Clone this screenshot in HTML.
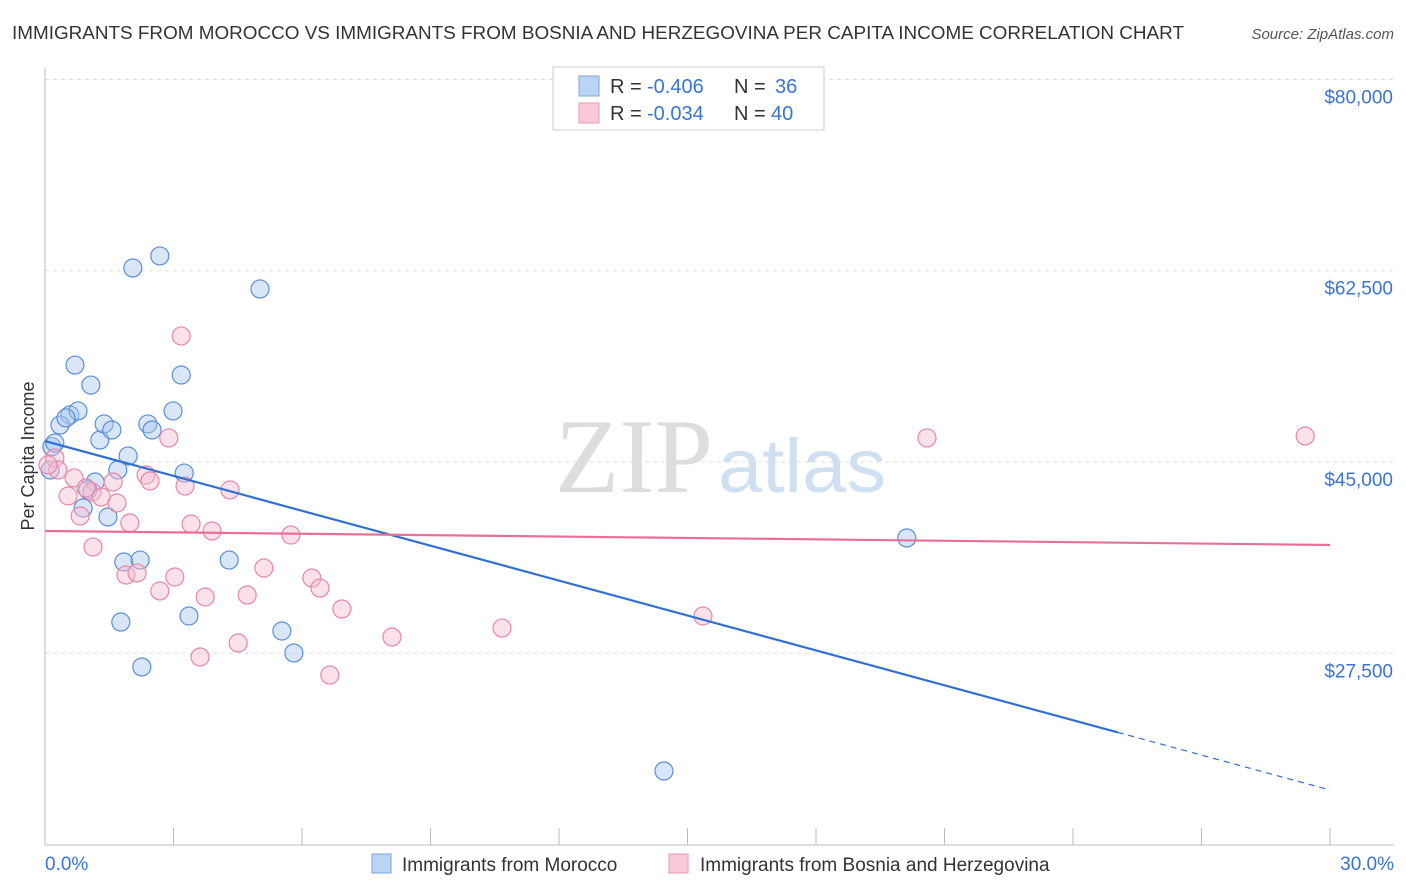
<!DOCTYPE html>
<html><head><meta charset="utf-8"><style>
body{margin:0;background:#fff;font-family:"Liberation Sans",sans-serif}
svg{display:block}
</style></head><body>
<svg id="chart" width="1406" height="892">
<text x="12" y="39" font-size="18" fill="#333" textLength="1172" lengthAdjust="spacingAndGlyphs">IMMIGRANTS FROM MOROCCO VS IMMIGRANTS FROM BOSNIA AND HERZEGOVINA PER CAPITA INCOME CORRELATION CHART</text>
<text x="1394" y="39" font-size="15" font-style="italic" fill="#555" text-anchor="end">Source: ZipAtlas.com</text>
<text x="555" y="492" font-size="106" font-family="Liberation Serif" fill="#ddd" textLength="158" lengthAdjust="spacingAndGlyphs">ZIP</text>
<text x="718" y="492" font-size="76" fill="#cfe0f3" textLength="168" lengthAdjust="spacingAndGlyphs">atlas</text>
<g id="grid"></g><g id="axes"></g><g id="pts"></g><g id="trend"></g>
<text transform="translate(34,456) rotate(-90)" font-size="18" fill="#333" text-anchor="middle">Per Capita Income</text>
<g>
<rect x="553" y="67" width="271" height="63" fill="#fff" stroke="#ccc"/>
<rect x="579" y="76" width="20" height="20" fill="#bcd4f3" stroke="#7aa6e0"/>
<rect x="579" y="103" width="20" height="20" fill="#f9c9d8" stroke="#ec96b2"/>
<text x="610" y="93" font-size="20" fill="#333">R =</text>
<text x="647" y="93" font-size="20" fill="#3a74d6">-0.406</text>
<text x="734" y="93" font-size="20" fill="#333">N =</text>
<text x="775" y="93" font-size="20" fill="#3a74d6">36</text>
<text x="610" y="120" font-size="20" fill="#333">R =</text>
<text x="647" y="120" font-size="20" fill="#3a74d6">-0.034</text>
<text x="734" y="120" font-size="20" fill="#333">N =</text>
<text x="771" y="120" font-size="20" fill="#3a74d6">40</text>
</g>
<g>
<rect x="372" y="854" width="19" height="19" fill="#bcd4f3" stroke="#7aa6e0"/>
<text x="402" y="871" font-size="19" fill="#333">Immigrants from Morocco</text>
<rect x="669" y="854" width="19" height="19" fill="#f9c9d8" stroke="#ec96b2"/>
<text x="700" y="871" font-size="19" fill="#333">Immigrants from Bosnia and Herzegovina</text>
</g>
</svg>
<script>
const yTicks=[27500,45000,62500,80000];
const yTickLabels=["$27,500","$45,000","$62,500","$80,000"];
const xTickLabels=["0.0%","30.0%"];
const moroccoX=[0.16,0.23,0.58,0.70,1.07,0.77,0.35,1.28,1.38,1.56,1.94,1.70,1.17,1.00,0.89,1.47,1.84,2.22,1.77,2.26,2.05,2.68,3.18,2.99,2.40,2.50,3.25,4.30,3.36,5.02,5.53,5.81,20.12,14.45,0.12,0.49];
const moroccoY=[46400,46740,49300,53870,52040,49670,48380,47010,48480,47930,45550,44270,43170,42440,40790,39970,35850,36030,30360,26250,62750,63850,52960,49670,48480,47930,43990,36030,30910,60830,29540,27530,38050,16730,44270,49030];
const bosniaX=[0.23,0.30,0.54,0.68,1.10,0.82,1.12,1.31,1.68,1.59,1.98,1.89,2.15,2.36,2.45,2.89,3.18,3.27,3.41,3.03,2.68,3.74,3.62,3.90,4.32,4.51,4.72,5.11,5.74,6.23,6.42,6.93,6.65,8.10,10.67,15.36,20.59,29.42,0.07,0.96];
const bosniaY=[45370,44270,41890,43540,42260,40060,37220,41800,41250,43170,39420,34660,34850,43810,43260,47200,56530,42800,39330,34480,33200,32650,27160,38690,42440,28440,32830,35300,38320,34390,33470,31550,25510,28990,29810,30910,47200,47380,44730,42620];
const moroccoTrend=[46920,14995];
const bosniaTrend=[38690,37410];
const solidEnd=25.04;
const NS="http://www.w3.org/2000/svg";
const X=v=>45+v/30*1285;
const Y=v=>462-(v-45000)*191.3/17500;
function mk(p,t,a){const e=document.createElementNS(NS,t);for(const k in a)e.setAttribute(k,a[k]);document.getElementById(p).appendChild(e);return e;}
yTicks.forEach((t,i)=>{
 const l=mk('grid','line',{x1:45,x2:1394,y1:Y(t),y2:Y(t),stroke:'#ddd','stroke-dasharray':'4,4'});
 
 
 const tx=mk('axes','text',{x:1393,y:Y(t)+24,'font-size':19,fill:'#3a74d6','text-anchor':'end'});tx.textContent=yTickLabels[i];
 
 
});
mk('axes','line',{x1:45,x2:45,y1:68,y2:845,stroke:'#bbb'});
mk('axes','line',{x1:45,x2:1394,y1:845,y2:845,stroke:'#bbb'});
for(let i=0;i<=10;i++){const t=mk('axes','line',{x1:X(i*3),x2:X(i*3),y1:828,y2:845,stroke:'#bbb'});
 
 }
[[0,'start',45],[1,'end',1394]].forEach(([i,a,x])=>{const t=mk('axes','text',{x:x,y:870,'font-size':19,fill:'#3a74d6','text-anchor':a});t.textContent=xTickLabels[i];
 
 });
function pts(xs,ys,f,s,n){xs.forEach((x,i)=>{const c=mk('pts','circle',{cx:X(x),cy:Y(ys[i]),r:9,fill:f,'fill-opacity':0.45,stroke:s,'stroke-width':1.2});
 
 });}
pts(moroccoX,moroccoY,'#a9c8f0','#5a8fd8','morocco-point');
pts(bosniaX,bosniaY,'#f7bcd0','#e887a8','bosnia-point');
const lin=(a,x)=>a[0]+(a[1]-a[0])*x/30;
let l1=mk('trend','line',{x1:X(0),y1:Y(lin(moroccoTrend,0)),x2:X(solidEnd),y2:Y(lin(moroccoTrend,solidEnd)),stroke:'#2f6fd6','stroke-width':2.2});


let l2=mk('trend','line',{x1:X(solidEnd),y1:Y(lin(moroccoTrend,solidEnd)),x2:X(30),y2:Y(lin(moroccoTrend,30)),stroke:'#2f6fd6','stroke-width':1.2,'stroke-dasharray':'6,5'});


let l3=mk('trend','line',{x1:X(0),y1:Y(bosniaTrend[0]),x2:X(30),y2:Y(bosniaTrend[1]),stroke:'#e86f98','stroke-width':2.2});


</script>
</body></html>
